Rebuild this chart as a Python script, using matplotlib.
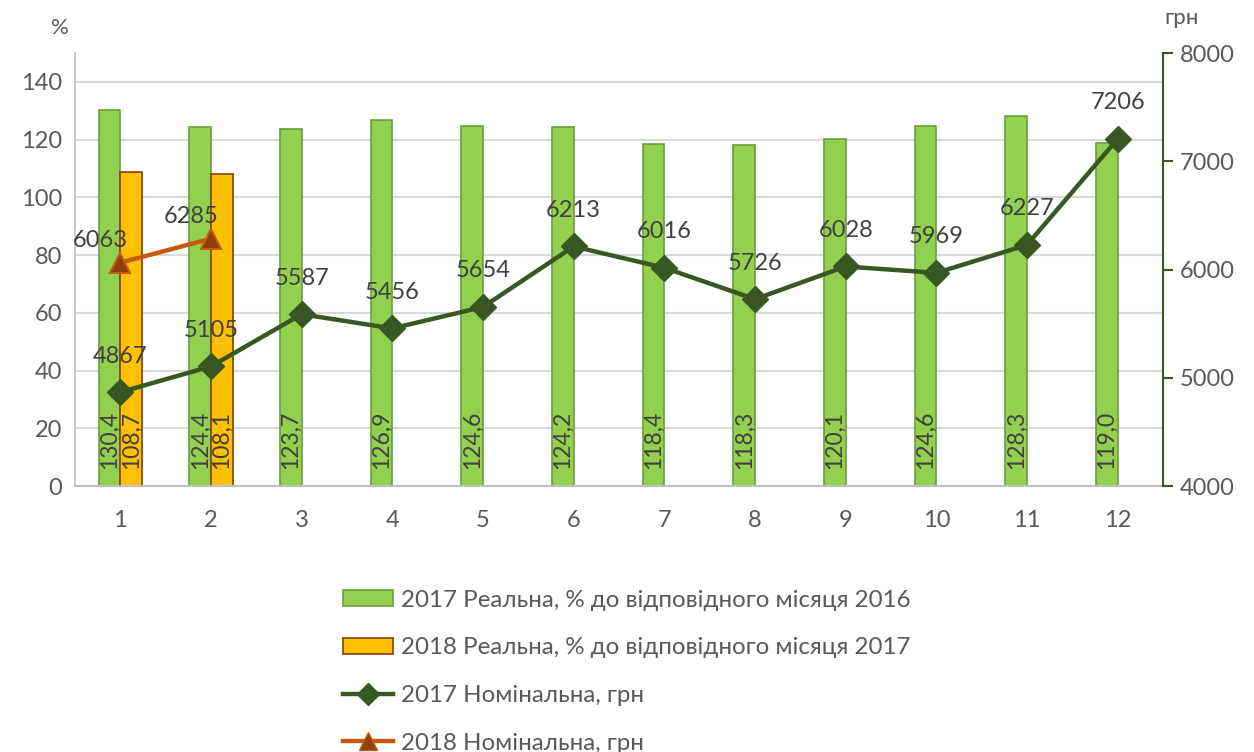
import matplotlib
matplotlib.use("Agg")
import matplotlib.pyplot as plt
from matplotlib.lines import Line2D
from matplotlib.patches import Patch

plt.rcParams['font.family'] = ['Lato', 'Open Sans', 'DejaVu Sans']

months = [1, 2, 3, 4, 5, 6, 7, 8, 9, 10, 11, 12]
real_2017 = [130.4, 124.4, 123.7, 126.9, 124.6, 124.2, 118.4, 118.3, 120.1, 124.6, 128.3, 119.0]
months_2018 = [1, 2]
real_2018 = [108.7, 108.1]
nom_2017 = [4867, 5105, 5587, 5456, 5654, 6213, 6016, 5726, 6028, 5969, 6227, 7206]
nom_2018 = [6063, 6285]

lbl_real17 = "2017 Реальна, % до відповідного місяця 2016"
lbl_real18 = "2018 Реальна, % до відповідного місяця 2017"
lbl_nom17 = "2017 Номінальна, грн"
lbl_nom18 = "2018 Номінальна, грн"

TXT = '#595959'
GREEN_BAR = '#92D050'
GREEN_EDGE = '#6A9F3A'
ORANGE_BAR = '#FFC000'
ORANGE_EDGE = '#843C0C'
GREEN_LINE = '#385723'
ORANGE_LINE = '#C55A11'
TRI_FACE = '#8E3F0E'

fs_tick = 17
fs_lab = 17
fs_bar = 16.5
fs_leg = 17.4

fig = plt.figure(figsize=(12.54, 7.52), dpi=100)
ax = fig.add_axes([0.0598, 0.3537, 0.8676, 0.5758])
ax2 = ax.twinx()

w = 0.24
b1 = ax.bar([m - w / 2 for m in months], real_2017, width=w, color=GREEN_BAR,
            edgecolor=GREEN_EDGE, linewidth=1.2, zorder=2)
b2 = ax.bar([m + w / 2 for m in months_2018], real_2018, width=w, color=ORANGE_BAR,
            edgecolor=ORANGE_EDGE, linewidth=1.2, zorder=2)

def fmt(v):
    return f"{v:.1f}".replace('.', ',')

for rect, v in zip(list(b1) + list(b2), real_2017 + real_2018):
    ax.annotate(fmt(v), (rect.get_x() + rect.get_width() / 2, 0),
                xytext=(0, 17), textcoords='offset pixels',
                rotation=90, ha='center', va='bottom', fontsize=fs_bar, color='#404040',
                zorder=3)

ax.set_xlim(0.5, 12.5)
ax.set_ylim(0, 150)
ax.set_yticks([0, 20, 40, 60, 80, 100, 120, 140])
ax.set_xticks(months)
ax.grid(axis='y', color='#D9D9D9', linewidth=1.5, zorder=0)
ax.set_axisbelow(True)
ax.tick_params(axis='y', length=0, pad=9, labelsize=fs_tick, labelcolor=TXT)
ax.tick_params(axis='x', length=0, pad=17, labelsize=fs_tick, labelcolor=TXT)
for s in ['top', 'right']:
    ax.spines[s].set_visible(False)
ax.spines['left'].set_color('#BFBFBF')
ax.spines['bottom'].set_color('#BFBFBF')
ax.spines['left'].set_linewidth(1.2)
ax.spines['bottom'].set_linewidth(1.5)

ax2.plot(months, nom_2017, color=GREEN_LINE, linewidth=3.2, marker='D',
         markersize=13, markerfacecolor=GREEN_LINE, markeredgecolor=GREEN_LINE, zorder=4)
ax2.plot(months_2018, nom_2018, color=ORANGE_LINE, linewidth=3.2, marker='^',
         markersize=14.5, markerfacecolor=TRI_FACE, markeredgecolor=ORANGE_LINE,
         markeredgewidth=1.5, zorder=4)
ax2.set_ylim(4000, 8000)
ax2.set_yticks([4000, 5000, 6000, 7000, 8000])
ax2.tick_params(axis='y', direction='out', length=7, width=1.5, color=GREEN_LINE,
                pad=5, labelsize=fs_tick, labelcolor=TXT)
for s in ['top', 'left', 'bottom']:
    ax2.spines[s].set_visible(False)
ax2.spines['right'].set_color(GREEN_LINE)
ax2.spines['right'].set_linewidth(1.5)

for m, v in zip(months, nom_2017):
    ax2.annotate(str(v), (m, v), xytext=(0, 36), textcoords='offset pixels',
                 ha='center', va='center', fontsize=fs_lab, color='#404040', zorder=5)
for m, v in zip(months_2018, nom_2018):
    ax2.annotate(str(v), (m, v), xytext=(-20, 22), textcoords='offset pixels',
                 ha='center', va='center', fontsize=fs_lab, color='#404040', zorder=5)

fig.text(60 / 1254, 1 - 28 / 752, '%', ha='center', va='center', fontsize=16, color=TXT)
fig.text(1182 / 1254, 1 - 18 / 752, 'грн', ha='center', va='center', fontsize=16, color=TXT)

handles = [
    Patch(facecolor=GREEN_BAR, edgecolor=GREEN_EDGE, linewidth=1.2),
    Patch(facecolor=ORANGE_BAR, edgecolor=ORANGE_EDGE, linewidth=1.2),
    Line2D([], [], color=GREEN_LINE, linewidth=3.2, marker='D', markersize=11,
           markerfacecolor=GREEN_LINE, markeredgecolor=GREEN_LINE),
    Line2D([], [], color=ORANGE_LINE, linewidth=3.2, marker='^', markersize=13,
           markerfacecolor=TRI_FACE, markeredgecolor=ORANGE_LINE),
]
leg = fig.legend(handles, [lbl_real17, lbl_real18, lbl_nom17, lbl_nom18],
                 loc='upper center', bbox_to_anchor=(0.5, 1 - 568 / 752),
                 frameon=False, fontsize=fs_leg, labelspacing=1.1, handlelength=2.07,
                 handleheight=0.65, handletextpad=0.35, labelcolor=TXT)

fig.savefig('out.png', dpi=100)
